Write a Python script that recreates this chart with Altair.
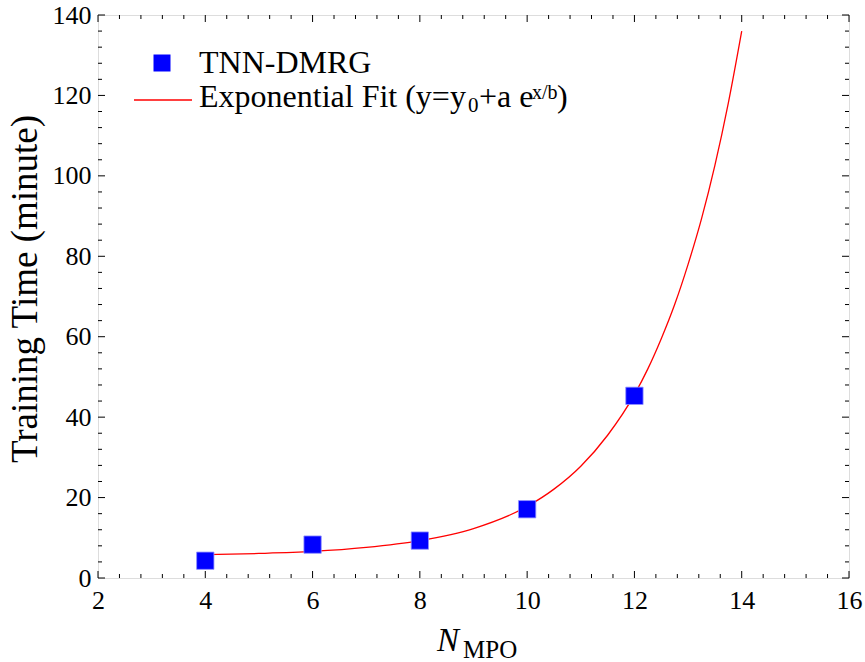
import altair as alt
import pandas as pd

# ---- data ----
n_mpo = [4, 6, 8, 10, 12]
train_time = [4.3, 8.3, 9.3, 17.1, 45.3]

fit_x = [4, 5, 6, 7, 8, 9, 10, 10.5, 11, 11.5, 12, 12.25, 12.5, 12.75, 13, 13.25, 13.5, 13.75, 14]
fit_y = [5.8, 6.1, 6.6, 7.6, 9.3, 12.3, 17.8, 22.1, 27.8, 35.5, 45.6, 52.0, 59.5, 68.0, 78.0, 89.3, 102.6, 118.1, 136.0]

x_major = [2, 4, 6, 8, 10, 12, 14, 16]
y_major = [0, 20, 40, 60, 80, 100, 120, 140]
x_minor = [round(2 + 0.4 * i, 2) for i in range(36) if i % 5 != 0]
y_minor = [4 * i for i in range(36) if i % 5 != 0]

W, H = 751, 563
FONT = "Liberation Serif"

pts = pd.DataFrame({"x": n_mpo, "y": train_time})
fit = pd.DataFrame({"x": fit_x, "y": fit_y})

xs = alt.Scale(domain=[2, 16], nice=False, zero=False)
ys = alt.Scale(domain=[0, 140], nice=False, zero=False)

x_axis = alt.Axis(values=x_major, ticks=False, domain=False, grid=False,
                  labelFont=FONT, labelFontSize=26, labelColor="black",
                  labelPadding=9, title=None, labelFlush=False)
y_axis = alt.Axis(values=y_major, ticks=False, domain=False, grid=False,
                  labelFont=FONT, labelFontSize=26, labelColor="black",
                  labelPadding=7, title=None, labelFlush=False)

base_axes = alt.Chart(pts).mark_point(opacity=0).encode(
    x=alt.X("x:Q", scale=xs, axis=x_axis),
    y=alt.Y("y:Q", scale=ys, axis=y_axis),
)

line = alt.Chart(fit).mark_line(color="#ff0000", strokeWidth=1.3, interpolate="monotone").encode(
    x=alt.X("x:Q", scale=xs), y=alt.Y("y:Q", scale=ys)
)

squares = alt.Chart(pts).mark_square(size=300, color="#0000ff", opacity=1,
                                     stroke="#9090ff", strokeWidth=0.8).encode(
    x=alt.X("x:Q", scale=xs), y=alt.Y("y:Q", scale=ys)
)

def xticks(vals, length, top):
    d = pd.DataFrame({"v": vals})
    if top:
        yy, yy2 = 0, length
    else:
        yy, yy2 = H, H - length
    return alt.Chart(d).mark_rule(color="black", strokeWidth=1).encode(
        x=alt.X("v:Q", scale=xs), y=alt.value(yy), y2=alt.value(yy2))

def yticks(vals, length, right):
    d = pd.DataFrame({"v": vals})
    if right:
        xx, xx2 = W, W - length
    else:
        xx, xx2 = 0, length
    return alt.Chart(d).mark_rule(color="black", strokeWidth=1).encode(
        y=alt.Y("v:Q", scale=ys), x=alt.value(xx), x2=alt.value(xx2))

ticks = [
    xticks(x_major, 7, False), xticks(x_major, 7, True),
    xticks(x_minor, 4, False), xticks(x_minor, 4, True),
    yticks(y_major, 7, False), yticks(y_major, 7, True),
    yticks(y_minor, 4, False), yticks(y_minor, 4, True),
]

one = alt.Data(values=[{"k": 1}])

def txt(s, x, y, size, italic=False, angle=None, align="left"):
    kw = dict(font=FONT, fontSize=size, color="black", align=align,
              baseline="alphabetic")
    if italic:
        kw["fontStyle"] = "italic"
    if angle is not None:
        kw["angle"] = angle
    return alt.Chart(one).mark_text(**kw).encode(
        x=alt.value(x), y=alt.value(y), text=alt.value(s))

legend_sq = alt.Chart(one).mark_square(size=289, color="#0000ff", opacity=1).encode(
    x=alt.value(64), y=alt.value(48))
legend_line = alt.Chart(one).mark_rule(color="#ff0000", strokeWidth=1.3).encode(
    x=alt.value(36), x2=alt.value(94), y=alt.value(85))

labels = [
    legend_sq, legend_line,
    txt("TNN-DMRG", 101, 58, 32),
    txt("Exponential Fit (y=y", 101, 92, 32),
    txt("0", 370, 97, 21),
    txt("+a e", 381, 92, 32),
    txt("x/b", 434, 84, 20),
    txt(")", 459, 92, 32),
    txt("N", 339, 636, 33, italic=True),
    txt("MPO", 365, 643, 25),
    txt("Training Time (minute)", -61, 274, 37, angle=270, align="center"),
]

chart = alt.layer(base_axes, line, squares, *ticks, *labels).properties(
    width=W, height=H,
    autosize=alt.AutoSizeParams(type="none"),
    padding={"left": 98, "top": 15, "right": 16, "bottom": 84},
).configure_view(stroke="black", strokeWidth=1.2).configure(background="white")

chart.save("out.html", embed_options={"renderer": "svg", "actions": False})
